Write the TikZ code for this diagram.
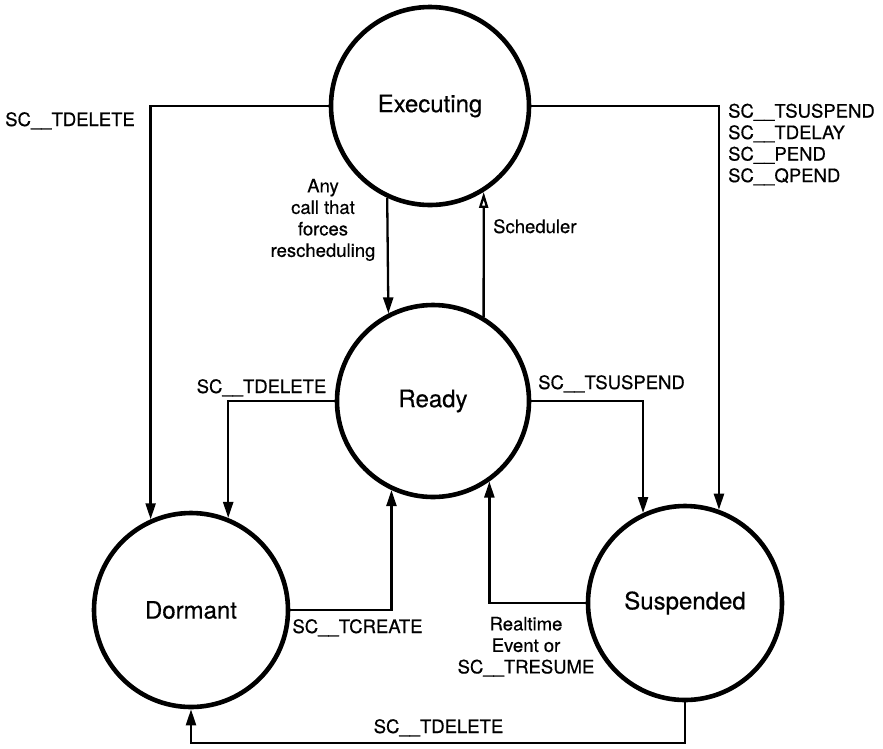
\documentclass[tikz,border=0pt]{standalone}
\usepackage{fontspec}
\setmainfont{TeX Gyre Heros}[FakeBold=0.5,AutoFakeBold=0]
\newfontfamily\heros{TeX Gyre Heros}[FakeBold=0.5]
\usetikzlibrary{arrows.meta}
\begin{document}
\begin{tikzpicture}[x=1pt,y=-1pt,
  state/.style={circle,draw,line width=4.6pt,minimum size=194pt,inner sep=0pt,
    font=\heros\fontsize{24}{28}\selectfont},
  conn/.style={line width=2.3pt,-{Triangle[length=16pt,width=10pt]}},
  connopen/.style={line width=2.3pt,-{Triangle[open,length=16pt,width=9pt]}},
  lbl/.style={inner sep=0pt,font=\heros\fontsize{18.5}{21.5}\selectfont}]
\useasboundingbox (0,0) rectangle (883,748);

% task states
\node[state,minimum size=198pt] (exec) at (430,106) {Executing};
\node[state,minimum size=192pt] (ready) at (433,401) {Ready};
\node[state] (dorm) at (191,610) {Dormant};
\node[state] (susp) at (685,603) {Suspended};

% transitions
\draw[conn] (exec.west) -| (dorm.114);
\draw[conn] (exec.245) -- (ready.117);
\draw[connopen] (ready.59) -- (exec.302);
\draw[conn] (exec.east) -| (susp.70);
\draw[conn] (ready.west) -| (dorm.68);
\draw[conn] (ready.east) -| (susp.115);
\draw[conn] (dorm.east) -| (ready.245);
\draw[conn] (susp.west) -| (ready.305);
\draw[conn] (susp.south) -- ++(0,41) coordinate (bend) -| (dorm.south);

% transition labels
\node[lbl,anchor=base east] (l1) at (135,126) {SC\_\_TDELETE};
\node[lbl,anchor=north,align=center] (l2) at (323,178.7) {Any\\call that\\forces\\rescheduling};
\node[lbl,anchor=base west] (l3) at (493,233) {Scheduler};
\node[lbl,anchor=north west,align=left] (l4) at (728,103.5) {SC\_\_TSUSPEND\\SC\_\_TDELAY\\SC\_\_PEND\\SC\_\_QPEND};
\node[lbl,anchor=base] (l5) at (261.5,393) {SC\_\_TDELETE};
\node[lbl,anchor=base] (l6) at (611.5,389) {SC\_\_TSUSPEND};
\node[lbl,anchor=base] (l7) at (357.5,633) {SC\_\_TCREATE};
\node[lbl,anchor=north,align=center] (l8) at (526,616.7) {Realtime\\Event or\\SC\_\_TRESUME};
\node[lbl,anchor=base] (l9) at (438.5,733) {SC\_\_TDELETE};
\end{tikzpicture}
\end{document}
